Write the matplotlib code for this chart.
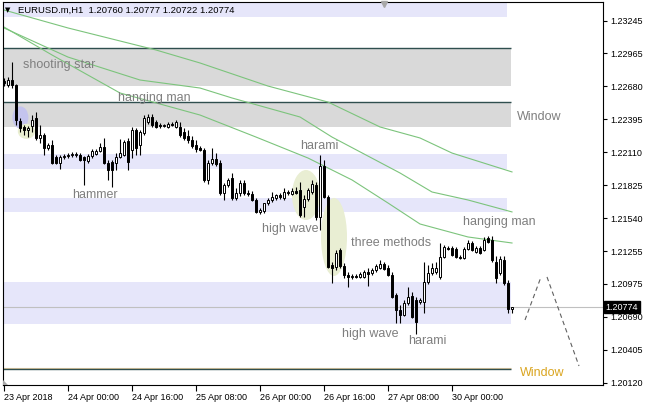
import matplotlib
matplotlib.use('Agg')
import matplotlib.pyplot as plt
from matplotlib.patches import Rectangle, Ellipse, Polygon

plt.rcParams['font.family'] = ['Liberation Sans', 'DejaVu Sans']

# H1 bars, EURUSD.m, 23 Apr 08:00 .. 30 Apr 15:00
opens = [1.22724, 1.22690, 1.22733, 1.22690, 1.22379, 1.22328, 1.22302, 1.22336, 1.22405, 1.22233,
         1.22259, 1.22147, 1.22172, 1.22069, 1.22017, 1.22069, 1.22078, 1.22086, 1.22086, 1.22086,
         1.22069, 1.22034, 1.22078, 1.22095, 1.22121, 1.22155, 1.22017, 1.22026, 1.22017, 1.22069,
         1.22086, 1.22207, 1.22129, 1.22302, 1.22172, 1.22276, 1.22371, 1.22414, 1.22371, 1.22345,
         1.22336, 1.22328, 1.22354, 1.22328, 1.22328, 1.22285, 1.22250, 1.22216, 1.22172, 1.22147,
         1.22129, 1.21871, 1.22017, 1.22052, 1.22017, 1.21758, 1.21827, 1.21888, 1.21715, 1.21758,
         1.21845, 1.21758, 1.21750, 1.21698, 1.21595, 1.21603, 1.21672, 1.21698, 1.21715, 1.21741,
         1.21715, 1.21767, 1.21750, 1.21776, 1.21784, 1.21638, 1.21707, 1.21767, 1.21827, 1.21551,
         1.21991, 1.21724, 1.21137, 1.21120, 1.21267, 1.21129, 1.21051, 1.21034, 1.21043, 1.21034,
         1.21034, 1.21077, 1.21068, 1.21094, 1.21112, 1.21146, 1.21112, 1.21051, 1.20879, 1.20749,
         1.20706, 1.20810, 1.20870, 1.20836, 1.20818, 1.20818, 1.20991, 1.21068, 1.21077, 1.21034,
         1.21206, 1.21284, 1.21284, 1.21275, 1.21206, 1.21198, 1.21275, 1.21327, 1.21250, 1.21284,
         1.21267, 1.21370, 1.21353, 1.21163, 1.21068, 1.21181, 1.20982, 1.20760]
highs = [1.22750, 1.22759, 1.22888, 1.22699, 1.22405, 1.22345, 1.22336, 1.22431, 1.22457, 1.22345,
         1.22276, 1.22190, 1.22216, 1.22086, 1.22086, 1.22095, 1.22103, 1.22112, 1.22112, 1.22103,
         1.22078, 1.22095, 1.22138, 1.22138, 1.22190, 1.22233, 1.22043, 1.22043, 1.22103, 1.22224,
         1.22216, 1.22233, 1.22328, 1.22319, 1.22302, 1.22431, 1.22440, 1.22440, 1.22388, 1.22362,
         1.22354, 1.22371, 1.22371, 1.22388, 1.22371, 1.22319, 1.22302, 1.22250, 1.22216, 1.22164,
         1.22147, 1.22043, 1.22147, 1.22103, 1.22043, 1.21845, 1.21888, 1.21931, 1.21802, 1.21871,
         1.21871, 1.21784, 1.21776, 1.21715, 1.21629, 1.21672, 1.21715, 1.21767, 1.21750, 1.21758,
         1.21802, 1.21784, 1.21802, 1.21810, 1.21853, 1.21741, 1.21802, 1.21871, 1.21853, 1.22086,
         1.22043, 1.21741, 1.21163, 1.21267, 1.21284, 1.21155, 1.21077, 1.21060, 1.21060, 1.21077,
         1.21094, 1.21112, 1.21112, 1.21146, 1.21181, 1.21163, 1.21137, 1.21077, 1.20896, 1.20792,
         1.20836, 1.20948, 1.20905, 1.20861, 1.20853, 1.21163, 1.21137, 1.21155, 1.21163, 1.21327,
         1.21310, 1.21301, 1.21301, 1.21293, 1.21224, 1.21293, 1.21353, 1.21344, 1.21301, 1.21301,
         1.21379, 1.21388, 1.21388, 1.21215, 1.21215, 1.21215, 1.21008, 1.20777]
lows = [1.22681, 1.22673, 1.22664, 1.22345, 1.22285, 1.22259, 1.22241, 1.22285, 1.22216, 1.22190,
        1.22086, 1.22129, 1.22009, 1.22009, 1.21965, 1.22052, 1.22060, 1.22069, 1.22069, 1.22034,
        1.21827, 1.22017, 1.22060, 1.22086, 1.22112, 1.22009, 1.21871, 1.21810, 1.21957, 1.22060,
        1.22078, 1.21957, 1.22060, 1.22086, 1.22086, 1.22259, 1.22354, 1.22328, 1.22319, 1.22319,
        1.22328, 1.22319, 1.22336, 1.22319, 1.22241, 1.22216, 1.22190, 1.22147, 1.22112, 1.22121,
        1.21853, 1.21836, 1.22000, 1.21991, 1.21741, 1.21698, 1.21810, 1.21698, 1.21698, 1.21733,
        1.21741, 1.21733, 1.21689, 1.21586, 1.21577, 1.21586, 1.21655, 1.21681, 1.21698, 1.21707,
        1.21698, 1.21741, 1.21741, 1.21750, 1.21551, 1.21551, 1.21689, 1.21750, 1.21526, 1.21439,
        1.21715, 1.21112, 1.20982, 1.21094, 1.21112, 1.21025, 1.20948, 1.21017, 1.21025, 1.21025,
        1.21025, 1.20956, 1.21051, 1.21077, 1.21103, 1.21094, 1.21043, 1.20853, 1.20637, 1.20637,
        1.20698, 1.20792, 1.20680, 1.20542, 1.20801, 1.20723, 1.20974, 1.21051, 1.21060, 1.21017,
        1.21198, 1.21267, 1.21215, 1.21198, 1.21189, 1.21189, 1.21267, 1.21258, 1.21241, 1.21232,
        1.21258, 1.21327, 1.21163, 1.20982, 1.21051, 1.20965, 1.20723, 1.20722]
closes = [1.22707, 1.22733, 1.22690, 1.22388, 1.22319, 1.22302, 1.22319, 1.22388, 1.22233, 1.22259,
          1.22147, 1.22172, 1.22017, 1.22017, 1.22069, 1.22078, 1.22086, 1.22095, 1.22095, 1.22043,
          1.22043, 1.22078, 1.22121, 1.22121, 1.22155, 1.22017, 1.21957, 1.21957, 1.22069, 1.22103,
          1.22198, 1.22026, 1.22302, 1.22147, 1.22285, 1.22405, 1.22414, 1.22345, 1.22328, 1.22336,
          1.22345, 1.22354, 1.22345, 1.22371, 1.22259, 1.22233, 1.22216, 1.22164, 1.22138, 1.22129,
          1.21871, 1.22017, 1.22052, 1.22009, 1.21758, 1.21827, 1.21871, 1.21715, 1.21758, 1.21845,
          1.21758, 1.21750, 1.21698, 1.21595, 1.21612, 1.21672, 1.21698, 1.21724, 1.21741, 1.21724,
          1.21767, 1.21758, 1.21776, 1.21758, 1.21569, 1.21707, 1.21784, 1.21836, 1.21551, 1.21991,
          1.21724, 1.21120, 1.21112, 1.21241, 1.21129, 1.21051, 1.21034, 1.21043, 1.21034, 1.21060,
          1.21077, 1.21060, 1.21094, 1.21129, 1.21146, 1.21103, 1.21051, 1.20861, 1.20749, 1.20706,
          1.20810, 1.20861, 1.20689, 1.20646, 1.20836, 1.20991, 1.21068, 1.21112, 1.21112, 1.21206,
          1.21293, 1.21275, 1.21224, 1.21206, 1.21198, 1.21275, 1.21327, 1.21267, 1.21284, 1.21241,
          1.21353, 1.21336, 1.21181, 1.21025, 1.21189, 1.20982, 1.20758, 1.20774]

# moving averages (read at a few bars)
ma_slow_idx = [0, 16, 38, 49, 66, 81, 94, 104, 112, 127]
ma_slow = [1.23337, 1.23182, 1.22992, 1.22880, 1.22681, 1.22543, 1.22328, 1.22233, 1.22103, 1.21940]
ma_mid_idx = [0, 16, 34, 49, 57, 74, 82, 99, 107, 116, 127]
ma_mid = [1.23182, 1.22931, 1.22733, 1.22664, 1.22578, 1.22414, 1.22241, 1.21931, 1.21767, 1.21698, 1.21595]
ma_fast_idx = [0, 12, 29, 49, 63, 76, 87, 96, 104, 116, 127]
ma_fast = [1.23190, 1.22949, 1.22621, 1.22431, 1.22241, 1.22060, 1.21871, 1.21672, 1.21491, 1.21379, 1.21327]

# zones: (low, high, last bar, colour)
zone_lo = [1.23276, 1.22681, 1.22328, 1.21965, 1.21595, 1.20629]
zone_hi = [1.23500, 1.23006, 1.22541, 1.22095, 1.21715, 1.20991]
zone_end = [125.75, 126.75, 126.75, 125.75, 125.75, 126.75]
zone_col = ['#e6e6fa', '#d9d9d9', '#d9d9d9', '#e6e6fa', '#e6e6fa', '#e6e6fa']
dark_levels = [1.23006, 1.22541, 1.20240]
window_level = 1.20250

# pattern highlights: centre bar, centre price, width (bars), height (price)
ell_x = [4.1, 5.6, 75.5, 82.5]
ell_y = [1.22410, 1.22290, 1.21741, 1.21379]
ell_w = [4.0, 4.3, 7.0, 6.5]
ell_h = [0.00190, 0.00130, 0.00431, 0.00673]
ell_col = ['#c4c4ee', '#eaefd2', '#e9eed3', '#e9eed3']

# pattern names
lab_text = ['shooting star', 'hanging man', 'hammer', 'harami', 'high wave', 'three methods',
            'hanging man', 'high wave', 'harami']
lab_x = [4.75, 37.6, 22.75, 78.75, 71.6, 96.75, 123.75, 91.6, 105.75]
lab_y = [1.22862, 1.22574, 1.21737, 1.22168, 1.21448, 1.21331, 1.21504, 1.20542, 1.20482]
lab_ha = ['left', 'center', 'center', 'center', 'center', 'center', 'center', 'center', 'center']

# projection
proj1_x = [130.25, 134.25]
proj1_y = [1.20663, 1.21034]
proj2_x = [135.75, 143.75]
proj2_y = [1.21034, 1.20266]

price_ticks = [1.23245, 1.22965, 1.22680, 1.22395, 1.22110, 1.21825, 1.21540, 1.21255,
               1.20975, 1.20690, 1.20405, 1.20120]
time_ticks = [0, 16, 32, 48, 64, 80, 96, 112]
time_labels = ['23 Apr 2018', '24 Apr 00:00', '24 Apr 16:00', '25 Apr 08:00',
               '26 Apr 00:00', '26 Apr 16:00', '27 Apr 08:00', '30 Apr 00:00']

fig = plt.figure(figsize=(6.45, 4.07), dpi=100)
ax = fig.add_axes([3 / 645, 22 / 407, 600 / 645, 383 / 407])
ax.set_xlim(-0.25, 149.75)
ax.set_ylim(1.20102, 1.23406)

# zones and levels
for lo, hi, end, col in zip(zone_lo, zone_hi, zone_end, zone_col):
    ax.add_patch(Rectangle((-1, lo), end + 1, hi - lo, facecolor=col, edgecolor='none', zorder=0))
ax.hlines(window_level, -1, 126.75, color='#e2c9a0', lw=0.8, zorder=1)
ax.hlines(dark_levels, -1, 126.75, color='#2f4f4f', lw=1.0, zorder=1)
ax.axhline(closes[-1], color='#c0c0c0', lw=0.8, zorder=1)

for x, y, w, h, col in zip(ell_x, ell_y, ell_w, ell_h, ell_col):
    ax.add_patch(Ellipse((x, y), w, h, facecolor=col, edgecolor='none', zorder=1))

ax.plot(ma_slow_idx, ma_slow, color='#7cc47c', lw=0.8, zorder=2)
ax.plot(ma_mid_idx, ma_mid, color='#7cc47c', lw=0.8, zorder=2)
ax.plot(ma_fast_idx, ma_fast, color='#7cc47c', lw=0.8, zorder=2)

# candles
for i in range(len(opens)):
    o, h, l, c = opens[i], highs[i], lows[i], closes[i]
    ax.vlines(i, l, h, color='black', lw=0.8, zorder=3)
    fc = 'white' if c > o else 'black'
    ax.add_patch(Rectangle((i - 0.3, min(o, c)), 0.6, abs(c - o), facecolor=fc,
                           edgecolor='black', lw=0.7, zorder=4))

ax.plot(proj1_x, proj1_y, color='#606060', lw=0.8, dashes=(4, 3), zorder=3)
ax.plot(proj2_x, proj2_y, color='#606060', lw=0.8, dashes=(4, 3), zorder=3)

for t, x, y, ha in zip(lab_text, lab_x, lab_y, lab_ha):
    ax.text(x, y, t, color='#7f7f7f', fontsize=9, ha=ha, va='center', zorder=5)
ax.text(128.25, 1.22410, 'Window', color='#7f7f7f', fontsize=9, ha='left', va='center', zorder=5)
ax.text(129.0, 1.20202, 'Window', color='#daa520', fontsize=9, ha='left', va='center', zorder=5)

# header
ax.text(2 / 600, 1 - 8 / 383, '\u25bc', transform=ax.transAxes, fontsize=5,
        family='DejaVu Sans', va='center', ha='left', zorder=6)
ax.text(15 / 600, 1 - 8 / 383,
        'EURUSD.m,H1  %.5f %.5f %.5f %.5f' % (opens[-1], highs[-1], lows[-1], closes[-1]),
        transform=ax.transAxes, fontsize=6.8, va='center', ha='left', zorder=6)
ax.plot(95, 0.995, marker='v', color='#a8a8a8', ms=5, transform=ax.get_xaxis_transform(),
        clip_on=False, zorder=6)
ax.add_patch(Polygon([(0, 0), (0, 5 / 383), (5 / 600, 0)], closed=True, transform=ax.transAxes,
                     facecolor='#a8a8a8', edgecolor='none', zorder=6))

# axes
for s in ax.spines.values():
    s.set_linewidth(0.8)
    s.set_color('black')
ax.yaxis.tick_right()
ax.set_yticks(price_ticks)
ax.set_yticklabels(['%.5f' % p for p in price_ticks])
ax.tick_params(axis='y', direction='out', length=3, width=0.8, pad=2, labelsize=6.5)
ax.set_xticks(time_ticks)
ax.set_xticklabels(time_labels)
ax.tick_params(axis='x', direction='out', length=4, width=0.8, pad=2, labelsize=6.5)
for lbl in ax.get_xticklabels():
    lbl.set_horizontalalignment('left')

ax.text(1.004, closes[-1], '%.5f' % closes[-1], transform=ax.get_yaxis_transform(),
        color='white', fontsize=6.5, va='center', ha='left', clip_on=False, zorder=7,
        bbox=dict(boxstyle='square,pad=0.2', facecolor='black', edgecolor='black'))

fig.savefig('out.png', dpi=100)
